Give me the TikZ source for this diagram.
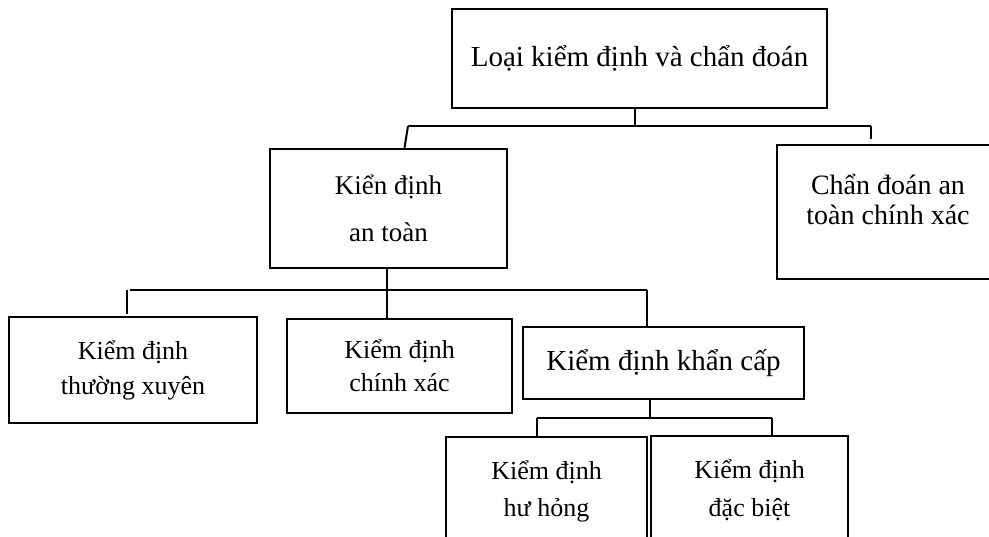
\documentclass[tikz,border=0pt]{standalone}
\usepackage{fontspec}
\setmainfont{Liberation Serif}
\usetikzlibrary{positioning,calc}

\tikzset{
  hop/.style={draw, line width=1.2pt, align=center, inner sep=0pt},
  noi/.style={line width=1pt},
}

\begin{document}
\begin{tikzpicture}[x=0.5pt, y=-0.5pt]
    \useasboundingbox (0,0) rectangle (989,536);
    \clip (0,0) rectangle (989,536);
    % cac hop
    \node[hop, font={\fontsize{14.5pt}{18pt}\selectfont}, minimum width=187.5pt, minimum height=49.5pt] (loai) at (639.5,58.5) {Loại kiểm định và chẩn đoán};
    \node[hop, font={\fontsize{13.5pt}{23.5pt}\selectfont}, minimum width=118.5pt, minimum height=59.5pt] (antoan) at (388.5,208.5) {Kiển định\\an toàn};
    \node[hop, minimum width=111.5pt, minimum height=67pt] (chandoan) at (888.5,212) {};
        \node[align=center, font={\fontsize{14pt}{15pt}\selectfont}] (chandoanchu) at (888,199) {Chẩn đoán an\\toàn chính xác};
    \node[hop, font={\fontsize{13pt}{17.5pt}\selectfont}, minimum width=124pt, minimum height=53pt] (thuongxuyen) at (133,370) {Kiểm định\\thường xuyên};
    \node[hop, font={\fontsize{13pt}{16.5pt}\selectfont}, minimum width=112.5pt, minimum height=47pt] (chinhxac) at (399.5,366) {Kiểm định\\chính xác};
    \node[hop, font={\fontsize{14.5pt}{18pt}\selectfont}, minimum width=140.5pt, minimum height=36pt] (khancap) at (663.5,363) {Kiểm định khẩn cấp};
    \node[hop, font={\fontsize{13pt}{18.5pt}\selectfont}, minimum width=100.5pt, minimum height=54pt] (huhong) at (546.5,491) {Kiểm định\\hư hỏng};
    \node[hop, font={\fontsize{13pt}{19pt}\selectfont}, minimum width=98.5pt, minimum height=54pt] (dacbiet) at (749.5,490) {Kiểm định\\đặc biệt};

    % nhanh 1
    \coordinate (b1l) at (408,126);
    \coordinate (b1r) at (871,126);
    \draw[noi] ([xshift=-2.25pt]loai.south) -- ([xshift=-2.25pt]loai.south |- b1l);
    \draw[noi] (b1l) -- (b1r);
    \draw[noi] (b1l) -- ([xshift=8pt]antoan.north);
    \draw[noi] (b1r) -- ++(0,13);
    % nhanh 2
    \coordinate (b2l) at (130,290);
    \coordinate (b2r) at (647,290);
    \draw[noi] (b2l) -- (b2r);
    \draw[noi] (127,290) -- ++(0,24);
    \draw[noi] ([xshift=-0.75pt]antoan.south) -- ([xshift=-0.75pt]antoan.south |- chinhxac.north);
    \draw[noi] (b2r) -- (b2r |- khancap.north);
    % nhanh 3
    \coordinate (b3l) at (537,418);
    \coordinate (b3r) at (772,418);
    \draw[noi] ([xshift=-6.75pt]khancap.south) -- ([xshift=-6.75pt]khancap.south |- b3l);
    \draw[noi] (b3l) -- (b3r);
    \draw[noi] (b3l) -- (b3l |- huhong.north);
    \draw[noi] (b3r) -- (b3r |- dacbiet.north);
\end{tikzpicture}
\end{document}
